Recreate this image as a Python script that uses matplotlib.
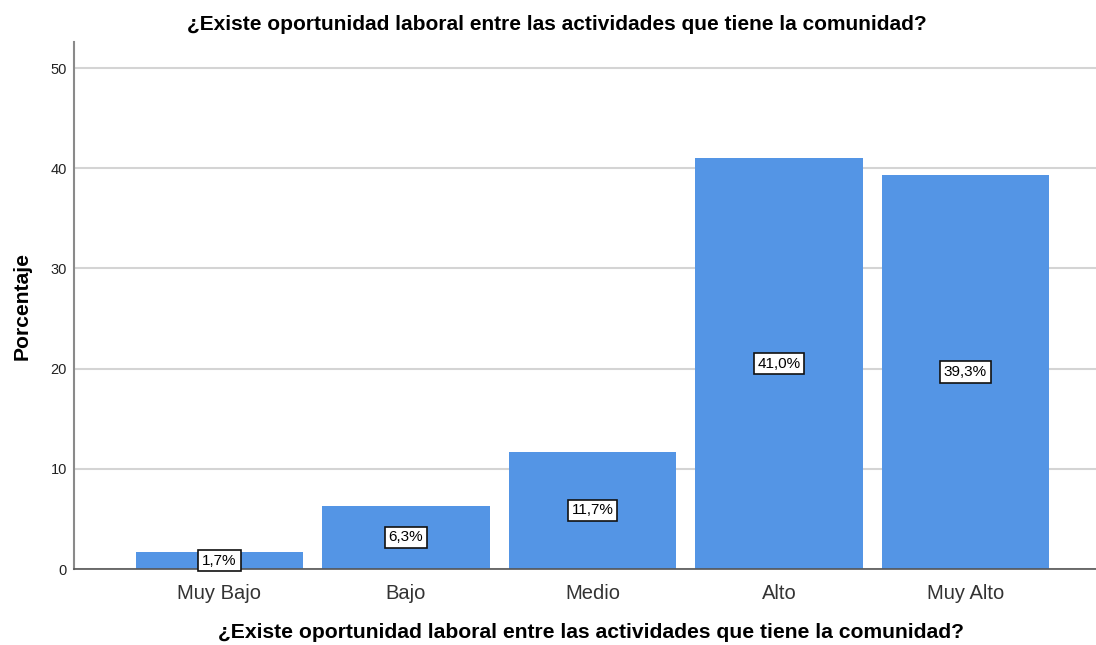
import matplotlib.pyplot as plt

# data
categorias = ["Muy Bajo", "Bajo", "Medio", "Alto", "Muy Alto"]
porcentajes = [1.7, 6.3, 11.7, 41.0, 39.3]
etiquetas = ["1,7%", "6,3%", "11,7%", "41,0%", "39,3%"]
titulo = "¿Existe oportunidad laboral entre las actividades que tiene la comunidad?"

plt.rcParams['font.family'] = ['Liberation Sans', 'DejaVu Sans']

fig = plt.figure(figsize=(10.96, 6.45), dpi=100)
ax = fig.add_axes([0.0675, 0.1178, 0.9325, 0.8171])

x = list(range(len(categorias)))
ax.bar(x, porcentajes, width=0.898, color="#5495E5", zorder=2)

# labels in the middle of each bar
for i, v in enumerate(porcentajes):
    ax.text(i, v / 2, etiquetas[i], ha="center", va="center", fontsize=11,
            bbox=dict(boxstyle="square,pad=0.25", facecolor="white", edgecolor="#111111", linewidth=1.2),
            zorder=3)

ax.set_xlim(-0.78, 4.70)
ax.set_ylim(0, 52.6)
ax.set_yticks([0, 10, 20, 30, 40, 50])
ax.set_xticks(x)
ax.set_xticklabels(categorias, fontsize=14.5, color="#333333")
ax.tick_params(axis="y", length=0, pad=5, labelsize=10.5, labelcolor="#222222")
ax.tick_params(axis="x", length=0, pad=11)

ax.yaxis.grid(True, color="#d4d4d4", linewidth=1.5, zorder=0)
ax.set_axisbelow(True)

for s in ["top", "right"]:
    ax.spines[s].set_visible(False)
ax.spines["left"].set_color("#8a8a8a")
ax.spines["left"].set_linewidth(1.5)
ax.spines["bottom"].set_color("#555555")
ax.spines["bottom"].set_linewidth(1.2)

fig.text(0.508, 0.962, titulo, ha="center", va="center", fontsize=15, fontweight="bold")
fig.text(0.539, 0.019, titulo, ha="center", va="center", fontsize=15.2, fontweight="bold")
fig.text(0.02, 0.525, "Porcentaje", ha="center", va="center", rotation=90,
         fontsize=15.2, fontweight="bold")

fig.savefig("out.png", dpi=100)
